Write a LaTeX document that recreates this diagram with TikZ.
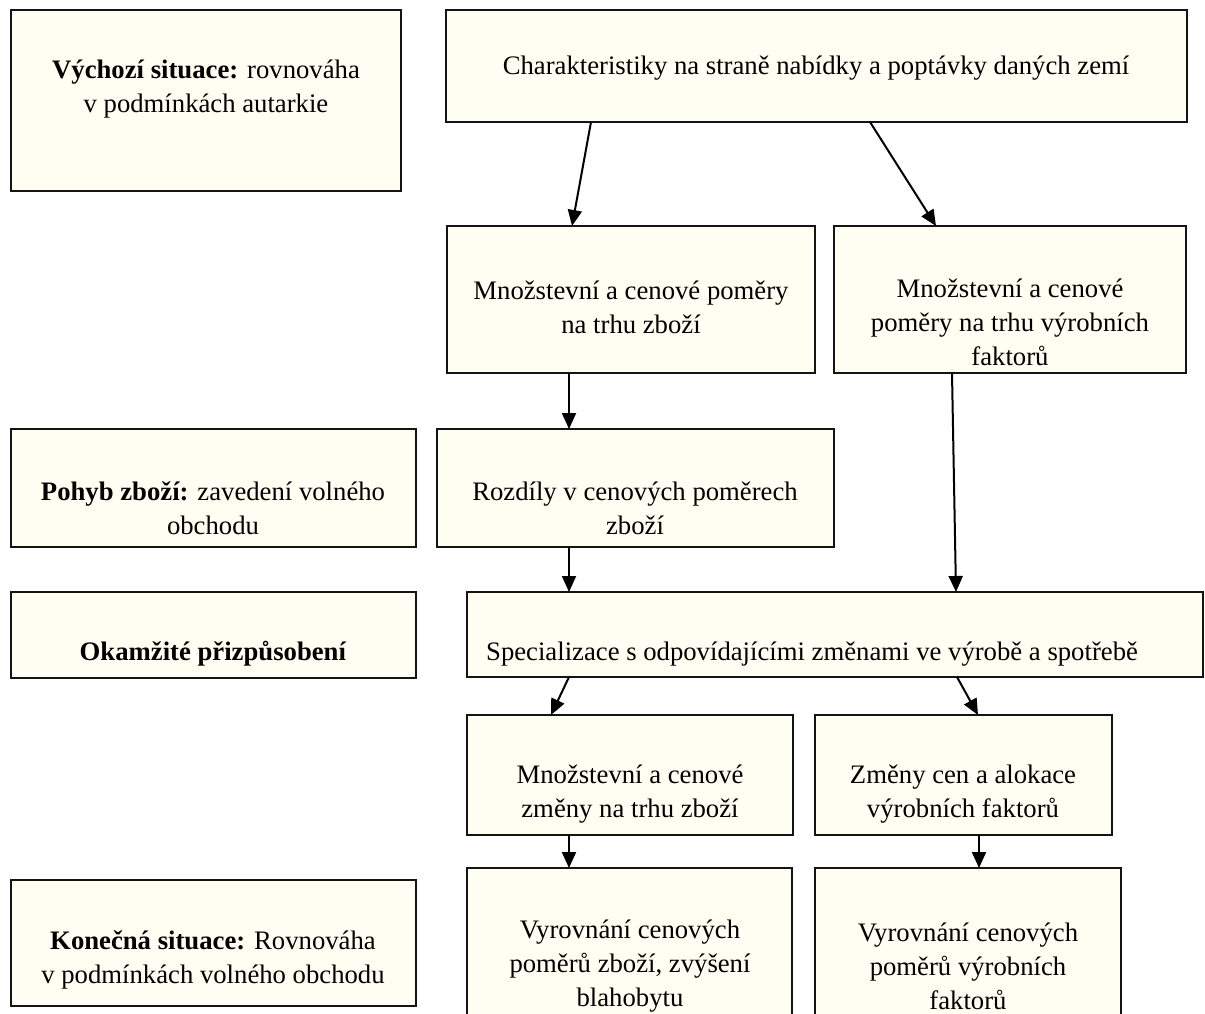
\documentclass[tikz,border=0pt]{standalone}
\usepackage{fontspec}
\setmainfont{Liberation Serif}
\usetikzlibrary{arrows.meta}
\definecolor{boxfill}{RGB}{255,254,242}
\definecolor{boxline}{RGB}{20,20,20}
\tikzset{
  box/.style={draw=boxline, fill=boxfill, line width=1.8pt, rectangle, inner sep=0pt, outer sep=0pt},
  txt/.style={align=center, inner sep=0pt, font=\fontsize{26.7}{34}\selectfont},
  arr/.style={line width=2pt, -{Triangle[length=16pt,width=14pt]}}
}
\begin{document}
\begin{tikzpicture}[x=1pt,y=-1pt]
\useasboundingbox (0,0) rectangle (1205,1014);
\clip (0,0) rectangle (1205,1014);
\fill[white] (0,0) rectangle (1205,1014);

% boxes
\node[box, minimum width=390pt, minimum height=181pt] (b1) at (206,100.5) {};
\node[box, minimum width=741pt, minimum height=112pt] (b2) at (816.5,66) {};
\node[box, minimum width=368pt, minimum height=147pt] (m1) at (631,299.5) {};
\node[box, minimum width=352pt, minimum height=147pt] (m2) at (1010,299.5) {};
\node[box, minimum width=405pt, minimum height=118pt] (p1) at (213.5,488) {};
\node[box, minimum width=397pt, minimum height=118pt] (r1) at (635.5,488) {};
\node[box, minimum width=405pt, minimum height=86pt] (o1) at (213.5,635) {};
\node[box, minimum width=736pt, minimum height=85pt] (s1) at (835,634.5) {};
\node[box, minimum width=326pt, minimum height=120pt] (z1) at (630,775) {};
\node[box, minimum width=297pt, minimum height=120pt] (z2) at (963.5,775) {};
\node[box, minimum width=405pt, minimum height=126pt] (k1) at (213.5,943) {};
\node[box, minimum width=325pt, minimum height=172pt] (v1) at (629.5,954) {};
\node[box, minimum width=306pt, minimum height=172pt] (v2) at (968,954) {};

% texts
\node[txt] (b1t) at (206,89) {\textbf{Výchozí situace:} rovnováha\\v podmínkách autarkie};
\node[txt] (b2t) at (816,68) {Charakteristiky na straně nabídky a poptávky daných zemí};
\node[txt] (m1t) at (631,307) {Množstevní a cenové poměry\\na trhu zboží};
\node[txt] (m2t) at (1010,322) {Množstevní a cenové\\poměry na trhu výrobních\\faktorů};
\node[txt] (p1t) at (213,508) {\textbf{Pohyb zboží:} zavedení volného\\obchodu};
\node[txt] (r1t) at (635,508) {Rozdíly v cenových poměrech\\zboží};
\node[txt] (o1t) at (213,654) {\textbf{Okamžité přizpůsobení}};
\node[txt] (s1t) at (812,654) {Specializace s odpovídajícími změnami ve výrobě a spotřebě};
\node[txt] (z1t) at (630,794) {Množstevní a cenové\\změny na trhu zboží};
\node[txt] (z2t) at (963,794) {Změny cen a alokace\\výrobních faktorů};
\node[txt] (k1t) at (213,960) {\textbf{Konečná situace:} Rovnováha\\v podmínkách volného obchodu};
\node[txt] (v1t) at (630,966) {Vyrovnání cenových\\poměrů zboží, zvýšení\\blahobytu};
\node[txt] (v2t) at (968,966) {Vyrovnání cenových\\poměrů výrobních\\faktorů};

% arrows
\draw[arr] ([xshift=-225.5pt]b2.south) -- ([xshift=-59pt]m1.north);
\draw[arr] ([xshift=53.5pt]b2.south) -- ([xshift=-74pt]m2.north);
\draw[arr] ([xshift=-62pt]m1.south) -- ([xshift=-66.5pt]r1.north);
\draw[arr] ([xshift=-58pt]m2.south) -- ([xshift=121pt]s1.north);
\draw[arr] ([xshift=-66.5pt]r1.south) -- ([xshift=-266pt]s1.north);
\draw[arr] ([xshift=-266pt]s1.south) -- ([xshift=-79pt]z1.north);
\draw[arr] ([xshift=122pt]s1.south) -- ([xshift=14.5pt]z2.north);
\draw[arr] ([xshift=-61pt]z1.south) -- ([xshift=-60.5pt]v1.north);
\draw[arr] ([xshift=15.5pt]z2.south) -- ([xshift=11pt]v2.north);
\end{tikzpicture}
\end{document}
